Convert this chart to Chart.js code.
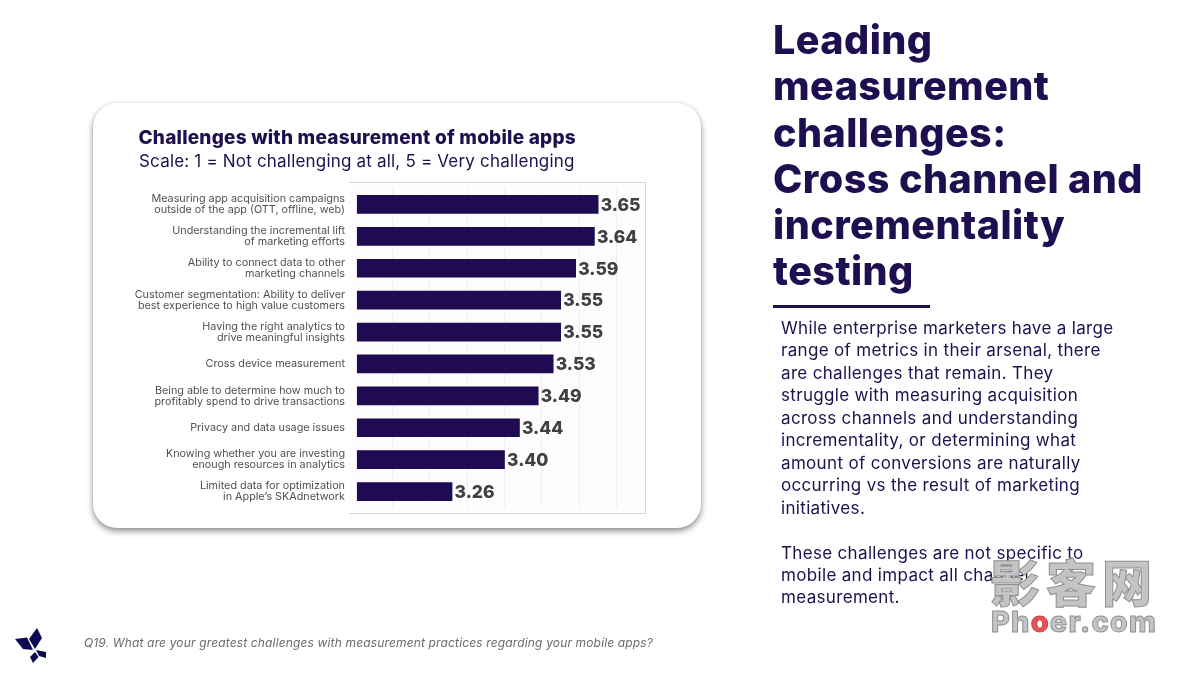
<!DOCTYPE html>
<html>
<head>
<meta charset="utf-8">
<script src="https://cdn.jsdelivr.net/npm/chart.js@4/dist/chart.umd.min.js"></script>
<style>
html,body{margin:0;padding:0;background:#fff;}
body{width:1200px;height:675px;position:relative;overflow:hidden;font-family:Inter,sans-serif;color:#1e0f50;}
.abs{position:absolute;white-space:nowrap;}
#card{left:93px;top:103px;width:608px;height:425px;border-radius:24px;background:#fff;box-shadow:0 3px 6px rgba(0,0,0,.45),0 0 2px rgba(0,0,0,.08);}
#frame{left:349px;top:182px;width:297px;height:332px;box-sizing:border-box;background:#fdfdfd;border:1px solid #d6d6d6;border-left:0;}
#chart{position:absolute;left:0;top:0;}
#chartTitle{left:138.5px;top:126px;font-size:19px;line-height:24px;font-weight:800;letter-spacing:.22px;}
#chartSub{left:139px;top:150px;font-size:17px;line-height:23px;letter-spacing:.19px;}
#head{left:773px;top:17px;font-size:39.5px;line-height:46.3px;font-weight:800;letter-spacing:.45px;}
#rule{left:773px;top:305px;width:157px;height:3px;background:#1e0f50;}
#body{left:781px;top:317px;font-size:17px;line-height:22.45px;letter-spacing:.33px;}
#foot{left:84px;top:635px;font-size:12px;line-height:16px;font-style:italic;color:#6b6b6b;letter-spacing:.15px;}
#logo{left:0;top:615px;}
#mark{left:990px;top:552px;text-align:center;font-weight:800;color:#c4c4c4;-webkit-text-stroke:1px #8f8f8f;}
#mark .cn{font-family:"Noto Sans CJK SC";font-size:50px;line-height:56px;letter-spacing:6px;}
#mark .en{font-size:29px;line-height:28px;letter-spacing:1.2px;}
#mark .en i{font-style:normal;color:#e8535a;-webkit-text-stroke:1px #c94047;}
</style>
</head>
<body>
<div class="abs" id="card"></div>
<div class="abs" id="frame"></div>
<canvas id="chart" width="1200" height="675"></canvas>
<div class="abs" id="chartTitle">Challenges with measurement of mobile apps</div>
<div class="abs" id="chartSub">Scale: 1 = Not challenging at all, 5 = Very challenging</div>
<div class="abs" id="head">Leading<br>measurement<br>challenges:<br>Cross channel and<br>incrementality<br>testing</div>
<div class="abs" id="rule"></div>
<div class="abs" id="body">While enterprise marketers have a large<br>range of metrics in their arsenal, there<br>are challenges that remain. They<br>struggle with measuring acquisition<br>across channels and understanding<br>incrementality, or determining what<br>amount of conversions are naturally<br>occurring vs the result of marketing<br>initiatives.<br><br>These challenges are not specific to<br>mobile and impact all channel<br>measurement.</div>
<div class="abs" id="foot">Q19. What are your greatest challenges with measurement practices regarding your mobile apps?</div>
<svg class="abs" id="logo" width="60" height="60" viewBox="0 0 60 60">
<g fill="#0d0a55">
<polygon points="15,24 27,22.5 33,35 23,34"/>
<polygon points="37,13 42,23 35,34 29,24"/>
<polygon points="36,35 46,37 46,43 39,41"/>
<polygon points="35,37 38.5,42 33,48 30,42"/>
</g>
</svg>
<div class="abs" id="mark"><div class="cn">影客网</div><div class="en">Ph<i>o</i>er.com</div></div>
<script>
const categories = [
  ["Measuring app acquisition campaigns", "outside of the app (OTT, offline, web)"],
  ["Understanding the incremental lift", "of marketing efforts"],
  ["Ability to connect data to other", "marketing channels"],
  ["Customer segmentation: Ability to deliver", "best experience to high value customers"],
  ["Having the right analytics to", "drive meaningful insights"],
  "Cross device measurement",
  ["Being able to determine how much to", "profitably spend to drive transactions"],
  "Privacy and data usage issues",
  ["Knowing whether you are investing", "enough resources in analytics"],
  ["Limited data for optimization", "in Apple\u2019s SKAdnetwork"]
];
const seriesValues = [3.65, 3.64, 3.59, 3.55, 3.55, 3.53, 3.49, 3.44, 3.40, 3.26];
const gridTicks = [3.1, 3.2, 3.3, 3.4, 3.5, 3.6, 3.7];

const valueLabels = {
  id: 'valueLabels',
  afterDatasetsDraw(chart) {
    const ctx = chart.ctx;
    const bars = chart.getDatasetMeta(0).data;
    ctx.save();
    ctx.font = '800 17.5px Inter';
    ctx.fillStyle = '#404040';
    ctx.textBaseline = 'middle';
    ctx.textAlign = 'left';
    bars.forEach((b, i) => {
      ctx.fillText(seriesValues[i].toFixed(2), b.x + 2.5, b.y + 1);
    });
    ctx.restore();
  }
};

new Chart(document.getElementById('chart').getContext('2d'), {
  type: 'bar',
  data: {
    labels: categories,
    datasets: [{
      data: seriesValues,
      base: 3.007,
      backgroundColor: '#1f0b52',
      barThickness: 18
    }]
  },
  options: {
    indexAxis: 'y',
    responsive: false,
    animation: false,
    layout: { padding: { left: 0, right: 555, top: 188.5, bottom: 167.5 } },
    plugins: { legend: { display: false }, tooltip: { enabled: false } },
    scales: {
      x: {
        min: 2.985,
        max: 3.775,
        afterBuildTicks(axis) { axis.ticks = gridTicks.map(v => ({ value: v })); },
        ticks: { display: false },
        grid: { color: '#efefef', lineWidth: 1, drawTicks: false },
        border: { display: false }
      },
      y: {
        afterFit(axis) { axis.width = 349; },
        ticks: {
          padding: 4,
          color: '#505050',
          autoSkip: false,
          font: { family: 'Inter', size: 10.8, lineHeight: 1.03 }
        },
        grid: { display: false, drawTicks: false },
        border: { display: false }
      }
    }
  },
  plugins: [valueLabels]
});
</script>
</body>
</html>
